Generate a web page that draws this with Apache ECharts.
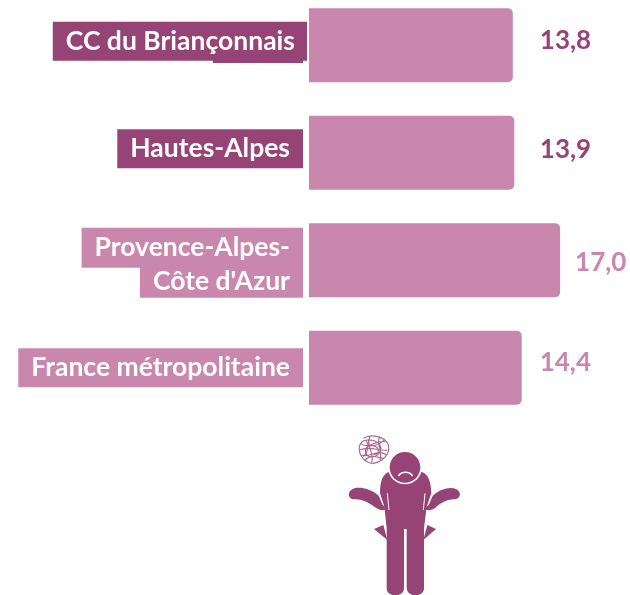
<!DOCTYPE html>
<html><head><meta charset="utf-8">
<style>html,body{margin:0;padding:0;background:#fff}#c{width:630px;height:595px}</style>
<script src="https://cdn.jsdelivr.net/npm/echarts@6/dist/echarts.min.js"></script>
</head><body><div id="c"></div>
<script>
const categories = ['CC du Briançonnais', 'Hautes-Alpes', 'Provence-Alpes-\nCôte d\'Azur', 'France métropolitaine'];
const values = [13.8, 13.9, 17.0, 14.4];
const highlighted = [true, true, false, false];

const DARK = '#964476', LIGHT = '#c987ae';
const FONT = 'Lato';
const labelGap = [27, 25.5, 15, 18];
const labelShift = [-5, -3, 2, -5];

function rich(color, pad, extra) {
  return Object.assign({
    color: '#fff', fontFamily: FONT, fontWeight: 700, fontSize: 26.5,
    backgroundColor: color, padding: pad, align: 'right'
  }, extra || {});
}
let shapeId = 0;
function pathEl(pathData, style) {
  const name = 'pic' + (shapeId++);
  echarts.graphic.registerShape(name, echarts.graphic.extendPath(pathData, {}));
  return {type: name, style: style};
}
const chart = echarts.init(document.getElementById('c'), null, {renderer: 'canvas'});
const data = values.map((v, i) => ({
  value: v,
  label: {
    distance: labelGap[i],
    offset: [0, labelShift[i]],
    color: highlighted[i] ? DARK : LIGHT
  }
}));
const person = [
  pathEl('M150 205 C150 165 160 142 182 140 C195 172 255 172 270 140 C292 142 303 165 304 205 L290 245 L282 310 L282 490 C282 518 232 518 230 490 L230 312 L222 312 L222 490 C222 518 170 518 170 490 L170 310 L163 245 Z', {fill:DARK}),
  pathEl('M146 212 C120 190 85 184 68 192 C50 200 55 224 72 223 C95 220 120 235 140 250 C152 258 165 258 170 250 L158 240 Z', {fill:DARK}),
  pathEl('M308 212 C330 192 360 184 378 192 C396 200 392 222 374 223 C352 222 330 235 314 250 C302 258 290 258 282 250 L296 240 Z', {fill:DARK}),
  pathEl('M172 205 L177 255', {fill:'none', stroke:'#fff', lineWidth:3}),
  pathEl('M285 205 L280 255', {fill:'none', stroke:'#fff', lineWidth:3}),
  pathEl('M132 312 L160 300 L172 345 Z', {fill:DARK}),
  pathEl('M318 312 L292 300 L280 345 Z', {fill:DARK}),
  {type:'circle', shape:{cx:225, cy:127, r:51}, style:{fill:'#fff'}},
  {type:'circle', shape:{cx:225, cy:127, r:46}, style:{fill:DARK}},
  pathEl('M205 153 C215 138 238 138 248 153', {fill:'none', stroke:'#fff', lineWidth:5}),
  pathEl('M100 40 C125 25 165 35 175 60 C182 85 160 110 130 115 C105 115 85 90 88 65 C92 42 125 38 145 55 C165 75 140 100 118 95 C98 85 105 60 130 62 C150 68 150 88 130 88 M108 45 C120 65 110 85 100 95 M150 35 C135 55 160 75 150 105 M90 75 C115 60 150 80 172 75 M92 55 C115 75 135 45 165 50 M95 90 C120 100 140 70 170 90 M120 35 C105 60 135 85 125 112 M165 42 C150 60 130 65 112 60 M105 105 C125 85 150 100 160 100', {fill:'none', stroke:DARK, lineWidth:3.5, opacity:.8})
];
chart.setOption({
  animation: false,
  backgroundColor: '#fff',
  grid: {left: 309, top: -8.5, width: 295.4, height: 430, outerBoundsMode: 'none'},
  xAxis: {type: 'value', min: 0, max: 20, show: false},
  yAxis: {
    type: 'category', inverse: true, data: categories,
    axisLine: {show: false}, axisTick: {show: false},
    axisLabel: {
      margin: 2, align: 'right', interval: 0,
      formatter: (v, i) => {
        const k = highlighted[i] ? 'd' : 'l';
        const lines = v.split('\n');
        if (i === 0) return '{d0|' + v + '}\n{up8|}';
        if (lines.length === 2) return '{dn5|}\n{l1|' + lines[0] + '}{g|}\n{l2|' + lines[1] + '}{g|}';
        return i === 1 ? '{' + k + '|' + v + '}{g|}\n{up8|}' : '{' + k + '|' + v + '}{g|}';
      },
      rich: {
        g: {width: 4, height: 1, align: 'right'},
        up8: {height: 8, lineHeight: 8, width: 1, align: 'right'},
        dn5: {height: 5, lineHeight: 5, width: 1, align: 'right'},
        d0: rich(DARK, [7, 12, 7, 13], {lineHeight: 39, height: 25}),
        d: rich(DARK, [7, 13, 7, 13], {lineHeight: 39, height: 25}),
        l: rich(LIGHT, [7, 13, 7, 13], {lineHeight: 39, height: 25}),
        l1: rich(LIGHT, [7, 13, 7, 13], {lineHeight: 38, height: 26}),
        l2: rich(LIGHT, [3, 13, 3, 13], {lineHeight: 30, height: 26})
      }
    }
  },
  series: [{
    type: 'bar', data: data, barWidth: 74, silent: true,
    itemStyle: {color: LIGHT, borderRadius: [0, 5, 5, 0]},
    label: {
      show: true, position: 'right', fontFamily: FONT, fontWeight: 700, fontSize: 26,
      formatter: p => p.value.toFixed(1).replace('.', ',')
    }
  }],
  graphic: [
    {type: 'group', x: 330, y: 425, scaleX: 1/3, scaleY: 1/3, silent: true, children: person},
    {type: 'rect', shape: {x: 213, y: 58, width: 90, height: 5}, style: {fill: DARK}, silent: true}
  ]
});
</script></body></html>
